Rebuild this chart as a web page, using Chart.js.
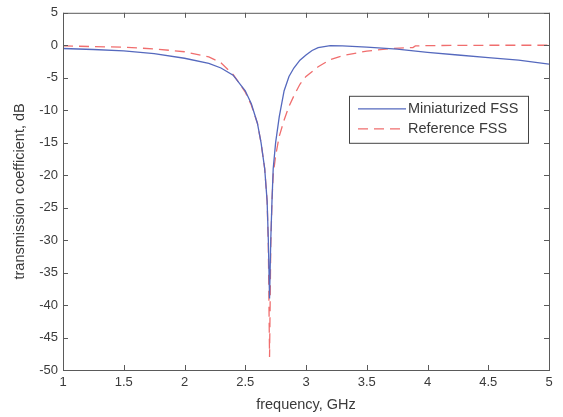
<!DOCTYPE html>
<html>
<head>
<meta charset="utf-8">
<script src="https://cdn.jsdelivr.net/npm/chart.js@4/dist/chart.umd.min.js"></script>
<style>
  html, body { margin: 0; padding: 0; background: #fff; }
  #wrap { width: 563px; height: 417px; }
</style>
</head>
<body>
<div id="wrap"><canvas id="myChart" width="563" height="417"></canvas></div>
<script>
// frequency (GHz) and transmission (dB)
const miniFreq = [1, 1.25, 1.5, 1.75, 2, 2.2, 2.3, 2.4, 2.5, 2.55, 2.6, 2.63, 2.66, 2.68, 2.69, 2.7,
  2.71, 2.72, 2.73, 2.75, 2.78, 2.82, 2.86, 2.9, 2.95, 3, 3.05, 3.1, 3.2, 3.3, 3.5, 3.75, 4, 4.25, 4.5, 4.75, 5];
const miniDb = [-0.5, -0.65, -0.85, -1.3, -2.0, -2.8, -3.5, -4.6, -7.0, -9.0, -12, -15, -19, -24, -30, -39,
  -30, -24, -19, -15, -11, -7, -4.8, -3.5, -2.3, -1.5, -0.8, -0.35, -0.05, -0.1, -0.3, -0.6, -1.1, -1.5, -1.9, -2.3, -2.9];

const refFreq = [1, 1.5, 1.75, 2, 2.2, 2.3, 2.4, 2.45, 2.5, 2.55, 2.6, 2.63, 2.66, 2.68, 2.69, 2.7,
  2.71, 2.72, 2.73, 2.75, 2.78, 2.82, 2.86, 2.9, 2.95, 3, 3.1, 3.2, 3.3, 3.5, 3.7, 3.88, 3.9, 4, 4.5, 5];
const refDb = [-0.1, -0.3, -0.55, -1.0, -1.8, -2.7, -4.5, -5.8, -7.2, -9.2, -12, -15, -19, -24, -31, -48,
  -31, -24, -20, -17, -14, -11.5, -9.4, -7.8, -6, -4.8, -3.3, -2.2, -1.6, -0.9, -0.5, -0.35, -0.1, -0.05, 0, 0];

const xTicks = [1, 1.5, 2, 2.5, 3, 3.5, 4, 4.5, 5];
const yTicks = [5, 0, -5, -10, -15, -20, -25, -30, -35, -40, -45, -50];

const toPoints = (xs, ys) => xs.map((x, i) => ({ x: x, y: ys[i] }));

const textColor = "#3a3a3a";
const axisColor = "#5a5a5a";
const family = "'Liberation Sans', Arial, sans-serif";
const tickFont = { family: family, size: 13 };
const titleFont = { family: family, size: 14.5 };

// box round the plot with inward ticks, like matlab
const framePlugin = {
  id: "frame",
  afterDraw(chart) {
    const { ctx, chartArea: a, scales } = chart;
    ctx.save();
    ctx.strokeStyle = axisColor;
    ctx.lineWidth = 1;
    ctx.strokeRect(a.left + 0.5, a.top + 0.5, a.right - a.left, a.bottom - a.top);
    ctx.beginPath();
    xTicks.forEach(v => {
      const px = Math.round(scales.x.getPixelForValue(v)) + 0.5;
      ctx.moveTo(px, a.bottom); ctx.lineTo(px, a.bottom - 5);
      ctx.moveTo(px, a.top); ctx.lineTo(px, a.top + 5);
    });
    yTicks.forEach(v => {
      const py = Math.round(scales.y.getPixelForValue(v)) + 0.5;
      ctx.moveTo(a.left, py); ctx.lineTo(a.left + 5, py);
      ctx.moveTo(a.right, py); ctx.lineTo(a.right - 5, py);
    });
    ctx.stroke();

    // legend box
    const bx = a.left + 286, by = a.top + 83, bw = 179, bh = 47;
    ctx.fillStyle = "#fff";
    ctx.fillRect(bx, by, bw, bh);
    ctx.strokeStyle = "#444";
    ctx.strokeRect(bx + 0.5, by + 0.5, bw, bh);
    ctx.font = titleFont.size + "px " + family;
    ctx.textBaseline = "middle";
    chart.data.datasets.forEach((ds, i) => {
      const ly = by + 13 + i * 20;
      ctx.strokeStyle = ds.borderColor;
      ctx.lineWidth = ds.borderWidth;
      ctx.setLineDash(ds.borderDash || []);
      ctx.beginPath();
      ctx.moveTo(bx + 9, ly); ctx.lineTo(bx + 57, ly);
      ctx.stroke();
      ctx.setLineDash([]);
      ctx.fillStyle = textColor;
      ctx.fillText(ds.label, bx + 59, ly);
    });
    ctx.restore();
  }
};

const ctx = document.getElementById("myChart").getContext("2d");
const chart = new Chart(ctx, {
  type: "scatter",
  data: {
    datasets: [
      {
        label: "Miniaturized FSS",
        data: toPoints(miniFreq, miniDb),
        showLine: true,
        borderColor: "rgb(85, 105, 190)",
        borderWidth: 1.3,
        pointRadius: 0,
        tension: 0
      },
      {
        label: "Reference FSS",
        data: toPoints(refFreq, refDb),
        showLine: true,
        borderColor: "rgb(240, 110, 110)",
        borderWidth: 1.3,
        borderDash: [10, 6],
        pointRadius: 0,
        tension: 0
      }
    ]
  },
  options: {
    responsive: false,
    animation: false,
    layout: { padding: { top: 9, right: 14, bottom: 0, left: 0 } },
    plugins: { legend: { display: false }, tooltip: { enabled: false } },
    scales: {
      x: {
        type: "linear",
        min: 1, max: 5,
        afterBuildTicks: s => { s.ticks = xTicks.map(v => ({ value: v })); },
        afterFit: s => { s.height = 47; },
        grid: { display: false, drawTicks: false },
        border: { display: false },
        ticks: { color: textColor, font: tickFont, padding: 5, maxRotation: 0, callback: v => String(v) },
        title: { display: true, text: "frequency, GHz", color: textColor, font: titleFont, padding: { top: 0, bottom: 3 } }
      },
      y: {
        type: "linear",
        min: -50, max: 5,
        afterBuildTicks: s => { s.ticks = yTicks.map(v => ({ value: v })); },
        afterFit: s => { s.width = 63; },
        grid: { display: false, drawTicks: false },
        border: { display: false },
        ticks: { color: textColor, font: tickFont, padding: 5, callback: v => String(v) },
        title: { display: true, text: "transmission coefficient, dB", color: textColor, font: titleFont, padding: { top: 11, bottom: 0 } }
      }
    }
  },
  plugins: [framePlugin]
});
</script>
</body>
</html>
